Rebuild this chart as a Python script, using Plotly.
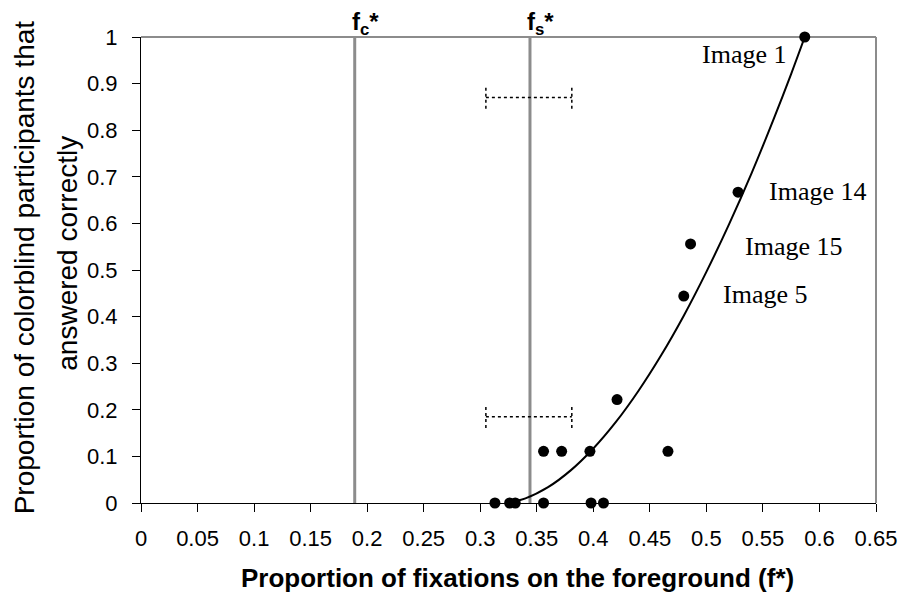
import plotly.graph_objects as go

# ---- data ----
pts_x = [0.587, 0.528, 0.486, 0.480, 0.421, 0.356, 0.372, 0.397, 0.466,
         0.313, 0.326, 0.331, 0.356, 0.398, 0.409]
pts_y = [1.0, 0.667, 0.556, 0.444, 0.222, 0.111, 0.111, 0.111, 0.111,
         0.0, 0.0, 0.0, 0.0, 0.0, 0.0]

curve_x = [0.325, 0.34, 0.36, 0.38, 0.40, 0.42, 0.44, 0.46, 0.48, 0.50,
           0.52, 0.54, 0.56, 0.575, 0.587]
curve_y = [0.001, 0.010, 0.034, 0.070, 0.117, 0.174, 0.241, 0.317, 0.402, 0.496,
           0.598, 0.708, 0.827, 0.921, 1.0]

thresholds = {"c": 0.189, "s": 0.344}

errbar_center = [0.343, 0.343]
errbar_half = [0.038, 0.038]
errbar_y = [0.87, 0.185]
errbar_cap = 0.024

image_labels = ["Image 1", "Image 14", "Image 15", "Image 5"]
image_label_x = [0.494, 0.554, 0.532, 0.513]
image_label_y = [0.962, 0.669, 0.550, 0.447]

x_ticks = [0, 0.05, 0.1, 0.15, 0.2, 0.25, 0.3, 0.35, 0.4, 0.45, 0.5, 0.55, 0.6, 0.65]
x_ticktext = ["0", "0.05", "0.1", "0.15", "0.2", "0.25", "0.3", "0.35", "0.4",
              "0.45", "0.5", "0.55", "0.6", "0.65"]
y_ticks = [0, 0.1, 0.2, 0.3, 0.4, 0.5, 0.6, 0.7, 0.8, 0.9, 1.0]
y_ticktext = ["0", "0.1", "0.2", "0.3", "0.4", "0.5", "0.6", "0.7", "0.8", "0.9", "1"]

x_title = "Proportion of fixations on the foreground (f*)"
y_title_lines = ["Proportion of colorblind participants that", "answered correctly"]

SANS = "Liberation Sans, Arial, sans-serif"
SERIF = "Liberation Serif, Times New Roman, serif"

fig = go.Figure()

# threshold vertical lines
for key, xv in thresholds.items():
    fig.add_trace(go.Scatter(x=[xv, xv], y=[0, 1], mode="lines",
                             line=dict(color="#8c8c8c", width=3),
                             hoverinfo="skip", cliponaxis=False))

# dotted error bars
for c, h, yv in zip(errbar_center, errbar_half, errbar_y):
    fig.add_trace(go.Scatter(x=[c - h, c + h], y=[yv, yv], mode="lines",
                             line=dict(color="black", width=1.5, dash="dot"),
                             hoverinfo="skip"))
    for xe in (c - h, c + h):
        fig.add_trace(go.Scatter(x=[xe, xe], y=[yv - errbar_cap, yv + errbar_cap],
                                 mode="lines",
                                 line=dict(color="black", width=1.5, dash="dot"),
                                 hoverinfo="skip"))

# fitted curve
fig.add_trace(go.Scatter(x=curve_x, y=curve_y, mode="lines",
                         line=dict(color="black", width=2, shape="spline"),
                         hoverinfo="skip", cliponaxis=False))

# data points
fig.add_trace(go.Scatter(x=pts_x, y=pts_y, mode="markers",
                         marker=dict(color="black", size=11),
                         cliponaxis=False))

# frame: gray top and right borders
fig.add_shape(type="line", xref="paper", yref="paper", x0=0, x1=1, y0=1, y1=1,
              line=dict(color="#8c8c8c", width=2), layer="below")
fig.add_shape(type="line", xref="paper", yref="paper", x0=1, x1=1, y0=0, y1=1,
              line=dict(color="#8c8c8c", width=2), layer="below")

# threshold labels
for key, xv in thresholds.items():
    fig.add_annotation(x=xv, xref="x", y=1, yref="paper",
                       text="<b>f<sub>%s</sub>*</b>" % key,
                       xanchor="left", yanchor="bottom", xshift=-5, yshift=-4,
                       showarrow=False, font=dict(family=SANS, size=24, color="black"))

# image labels
for t, xv, yv in zip(image_labels, image_label_x, image_label_y):
    fig.add_annotation(x=xv, y=yv, xref="x", yref="y", text=t, showarrow=False,
                       xanchor="left", yanchor="middle",
                       font=dict(family=SERIF, size=26, color="black"))

# axis titles
fig.add_annotation(x=0.512, y=-0.161, xref="paper", yref="paper", text="<b>%s</b>" % x_title,
                   showarrow=False, xanchor="center", yanchor="middle",
                   font=dict(family=SANS, size=26, color="black"))
fig.add_annotation(x=-0.159, y=0.506, xref="paper", yref="paper", text=y_title_lines[0],
                   textangle=-90, showarrow=False, xanchor="center", yanchor="middle",
                   font=dict(family=SANS, size=28, color="black"))
fig.add_annotation(x=-0.1, y=0.536, xref="paper", yref="paper", text=y_title_lines[1],
                   textangle=-90, showarrow=False, xanchor="center", yanchor="middle",
                   font=dict(family=SANS, size=28, color="black"))

fig.update_xaxes(range=[0, 0.65], tickvals=x_ticks, ticktext=x_ticktext,
                 showgrid=False, zeroline=False, showline=True, linecolor="black",
                 linewidth=1, ticks="outside", ticklen=8, tickcolor="black", tickwidth=1,
                 ticklabelstandoff=8,
                 tickfont=dict(family=SANS, size=22, color="black"))
fig.update_yaxes(range=[0, 1], tickvals=y_ticks, ticktext=y_ticktext,
                 showgrid=False, zeroline=False, showline=True, linecolor="black",
                 linewidth=1, ticks="outside", ticklen=8, tickcolor="black", tickwidth=1,
                 ticklabelstandoff=10,
                 tickfont=dict(family=SANS, size=22, color="black"))

fig.update_layout(width=909, height=600, margin=dict(l=141, r=28, t=37, b=97),
                  plot_bgcolor="white", paper_bgcolor="white", showlegend=False)

fig.write_html("out.html")
